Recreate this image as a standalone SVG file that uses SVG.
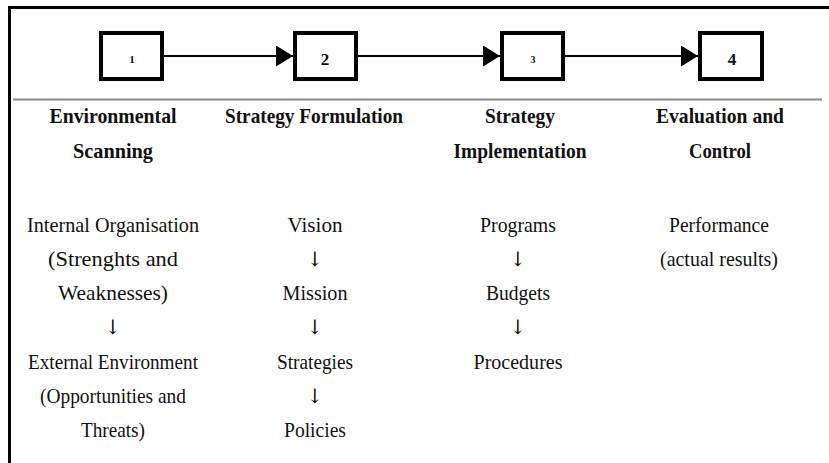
<svg xmlns="http://www.w3.org/2000/svg" width="829" height="463" viewBox="0 0 829 463">
<defs>
<style>
.frame{fill:none;stroke:#000;stroke-width:3}
.sep{stroke:#8a8a8a;stroke-width:2}
.box{fill:#fff;stroke:#000;stroke-width:4}
.num{font-family:"Liberation Serif","Times New Roman",serif;font-weight:bold;fill:#111;text-anchor:middle}
.conn{stroke:#000;stroke-width:2;fill:none}
.hd{font-family:"Liberation Serif","Times New Roman",serif;font-weight:bold;font-size:22px;fill:#111;text-anchor:middle}
.tx{font-family:"Liberation Serif","Times New Roman",serif;font-size:22px;fill:#111;text-anchor:middle}
.ar{font-family:"DejaVu Serif","Liberation Serif",serif;font-size:20px;fill:#111;text-anchor:middle}
</style>
<marker id="tri" markerUnits="userSpaceOnUse" markerWidth="18" markerHeight="22" refX="17" refY="10.5" orient="auto">
<path d="M0,0 L17,10.5 L0,21 z" fill="#000"/>
</marker>
</defs>
<rect width="829" height="463" fill="#fff"/>
<path class="frame" d="M9.5,463 V7.5 H829"/>
<line class="sep" x1="13" y1="99.5" x2="822" y2="99.5"/>

<g id="connectors">
<line class="conn" x1="164" y1="56" x2="293" y2="56" marker-end="url(#tri)"/>
<line class="conn" x1="358" y1="56" x2="500" y2="56" marker-end="url(#tri)"/>
<line class="conn" x1="565" y1="56" x2="698" y2="56" marker-end="url(#tri)"/>
</g>

<g id="node1">
<rect class="box" x="101" y="33" width="61" height="46"/>
<text class="num" x="132" y="63" font-size="11">1</text>
</g>
<g id="node2">
<rect class="box" x="295" y="33" width="61" height="46"/>
<text class="num" x="325" y="65" font-size="17">2</text>
</g>
<g id="node3">
<rect class="box" x="502" y="33" width="61" height="46"/>
<text class="num" x="533" y="63" font-size="10">3</text>
</g>
<g id="node4">
<rect class="box" x="700" y="33" width="62" height="46"/>
<text class="num" x="732" y="65" font-size="17">4</text>
</g>

<g id="col1">
<text class="hd" x="113" y="123" textLength="127" lengthAdjust="spacingAndGlyphs">Environmental</text>
<text class="hd" x="113" y="158" textLength="80" lengthAdjust="spacingAndGlyphs">Scanning</text>
<text class="tx" x="113" y="232" textLength="172" lengthAdjust="spacingAndGlyphs">Internal Organisation</text>
<text class="tx" x="113" y="266" textLength="130" lengthAdjust="spacingAndGlyphs">(Strenghts and</text>
<text class="tx" x="113" y="300" textLength="110" lengthAdjust="spacingAndGlyphs">Weaknesses)</text>
<text class="ar" x="113" y="334">↓</text>
<text class="tx" x="113" y="369" textLength="170" lengthAdjust="spacingAndGlyphs">External Environment</text>
<text class="tx" x="113" y="403" textLength="146" lengthAdjust="spacingAndGlyphs">(Opportunities and</text>
<text class="tx" x="113" y="437" textLength="64" lengthAdjust="spacingAndGlyphs">Threats)</text>
</g>

<g id="col2">
<text class="hd" x="314" y="123" textLength="178" lengthAdjust="spacingAndGlyphs">Strategy Formulation</text>
<text class="tx" x="315" y="232" textLength="55" lengthAdjust="spacingAndGlyphs">Vision</text>
<text class="ar" x="315" y="266">↓</text>
<text class="tx" x="315" y="300" textLength="65" lengthAdjust="spacingAndGlyphs">Mission</text>
<text class="ar" x="315" y="334">↓</text>
<text class="tx" x="315" y="369" textLength="76" lengthAdjust="spacingAndGlyphs">Strategies</text>
<text class="ar" x="315" y="403">↓</text>
<text class="tx" x="315" y="437" textLength="62" lengthAdjust="spacingAndGlyphs">Policies</text>
</g>

<g id="col3">
<text class="hd" x="520" y="123" textLength="70" lengthAdjust="spacingAndGlyphs">Strategy</text>
<text class="hd" x="520" y="158" textLength="133" lengthAdjust="spacingAndGlyphs">Implementation</text>
<text class="tx" x="518" y="232" textLength="76" lengthAdjust="spacingAndGlyphs">Programs</text>
<text class="ar" x="518" y="266">↓</text>
<text class="tx" x="518" y="300" textLength="64" lengthAdjust="spacingAndGlyphs">Budgets</text>
<text class="ar" x="518" y="334">↓</text>
<text class="tx" x="518" y="369" textLength="89" lengthAdjust="spacingAndGlyphs">Procedures</text>
</g>

<g id="col4">
<text class="hd" x="720" y="123" textLength="128" lengthAdjust="spacingAndGlyphs">Evaluation and</text>
<text class="hd" x="720" y="158" textLength="62" lengthAdjust="spacingAndGlyphs">Control</text>
<text class="tx" x="719" y="232" textLength="100" lengthAdjust="spacingAndGlyphs">Performance</text>
<text class="tx" x="719" y="266" textLength="118" lengthAdjust="spacingAndGlyphs">(actual results)</text>
</g>
</svg>
